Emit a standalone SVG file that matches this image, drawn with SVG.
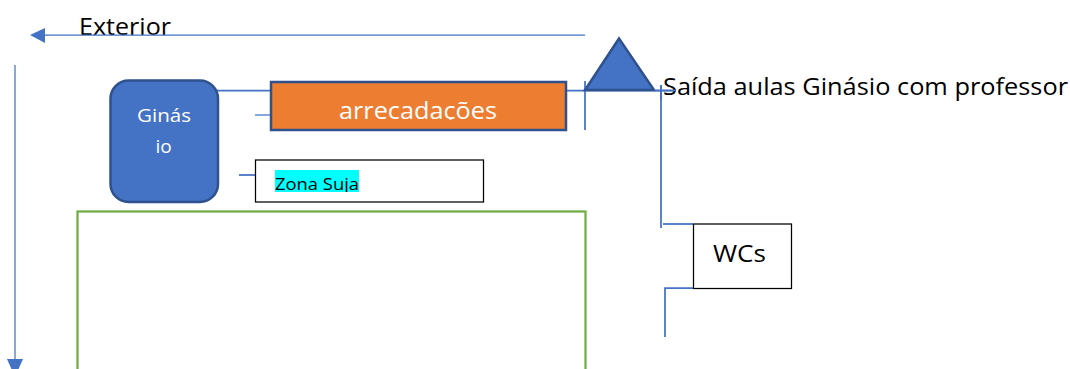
<svg xmlns="http://www.w3.org/2000/svg" width="1070" height="369" viewBox="0 0 1070 369">
  <style>
    text { font-family: "Open Sans", "Noto Sans", "DejaVu Sans", sans-serif; fill: #000; }
    .w { fill: #fff; }
    .c { fill: none; stroke: #4472C4; stroke-width: 1.75; }
    .t { fill: none; stroke: #4472C4; stroke-width: 1.25; }
  </style>
  <defs>
    <clipPath id="clipExt"><rect x="70" y="10" width="120" height="25"/></clipPath>
    <clipPath id="clipArr"><rect x="300" y="90" width="230" height="30"/></clipPath>
    <clipPath id="clipZona"><rect x="270" y="165" width="100" height="27"/></clipPath>
  </defs>
  <rect width="1070" height="369" fill="#fff"/>
  <g id="zone-green"><rect x="77.5" y="211.5" width="508" height="170" fill="#fff" stroke="#70AD47" stroke-width="2.25"/></g>
  <g id="exterior"><text x="79" y="35" font-size="24" textLength="92" lengthAdjust="spacingAndGlyphs" clip-path="url(#clipExt)">Exterior</text></g>
  <g id="connectors">
    <line class="t" x1="44" y1="35" x2="585" y2="35"/>
    <polygon points="30,35 45,28 45,43" fill="#4472C4"/>
    <line class="t" x1="15" y1="65" x2="15" y2="360"/>
    <polygon points="7,359 23,359 15,377" fill="#4472C4"/>
    <line class="c" x1="217" y1="90.5" x2="271" y2="90.5"/>
    <line class="t" x1="255" y1="115" x2="271" y2="115"/>
    <line class="c" x1="239" y1="175" x2="255" y2="175"/>
    <line class="c" x1="566" y1="90.5" x2="675" y2="90.5"/>
    <line class="c" x1="585" y1="81" x2="585" y2="130"/>
    <line class="c" x1="661" y1="85" x2="661" y2="228"/>
    <line class="c" x1="663" y1="224" x2="693" y2="224"/>
    <polyline class="c" points="693,288 665,288 665,337"/>
  </g>
  <g id="ginasio">
    <rect x="110.500" y="80.500" width="107.500" height="121.500" rx="18" fill="#4472C4" stroke="#2F528F" stroke-width="2.500"/>
    <text class="w" x="137" y="122" font-size="19" textLength="54" lengthAdjust="spacingAndGlyphs">Ginás</text>
    <text class="w" x="163.500" y="153" font-size="19" text-anchor="middle">io</text>
  </g>
  <g id="arrecadacoes">
    <rect x="271" y="82" width="295" height="48" fill="#ED7D31" stroke="#2F528F" stroke-width="2.500"/>
    <text class="w" x="339" y="119" font-size="24" textLength="158" lengthAdjust="spacingAndGlyphs" clip-path="url(#clipArr)">arrecadações</text>
  </g>
  <g id="zona-suja">
    <rect x="255.500" y="160" width="228" height="42" fill="#fff" stroke="#000" stroke-width="1.25"/>
    <rect x="275" y="170" width="84" height="22" fill="#00FFFF"/>
    <text x="275" y="190" font-size="17" textLength="84" lengthAdjust="spacingAndGlyphs" clip-path="url(#clipZona)">Zona Suja</text>
  </g>
  <g id="saida">
    <polygon points="619,38.500 585,90 654,90" fill="#4472C4" stroke="#2F528F" stroke-width="2.500"/>
    <text x="663" y="95" font-size="24" textLength="405" lengthAdjust="spacingAndGlyphs">Saída aulas Ginásio com professor</text>
    <line class="c" x1="654" y1="90.5" x2="675" y2="90.5"/>
    <line class="c" x1="661" y1="85" x2="661" y2="100"/>
  </g>
  <g id="wcs">
    <rect x="693.500" y="224" width="98" height="64.500" fill="#fff" stroke="#000" stroke-width="1.25"/>
    <text x="713" y="262" font-size="24" textLength="53" lengthAdjust="spacingAndGlyphs">WCs</text>
  </g>
</svg>
